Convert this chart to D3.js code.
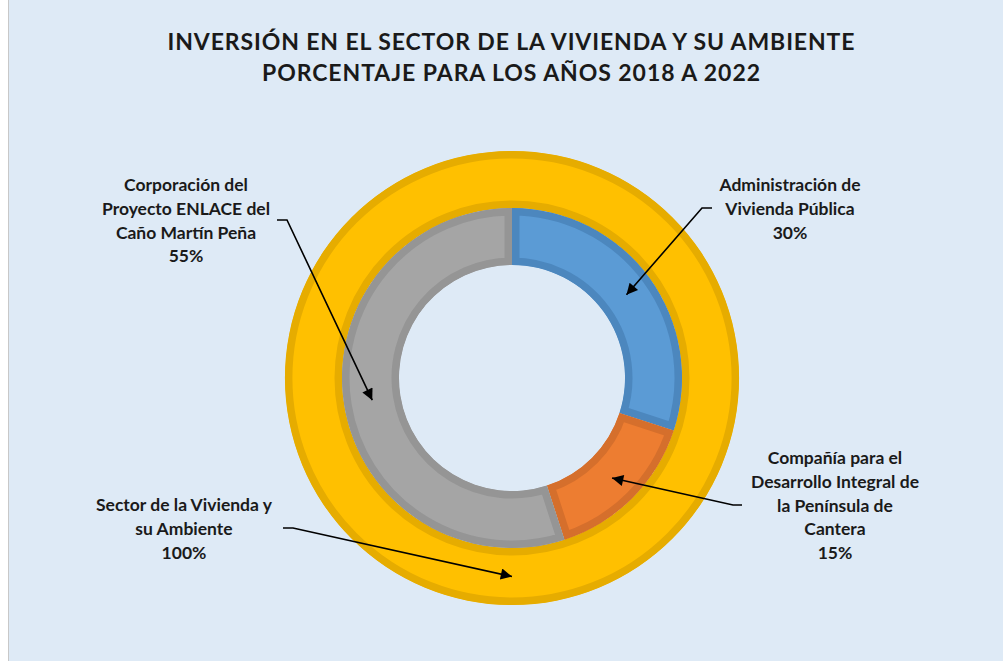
<!DOCTYPE html>
<html>
<head>
<meta charset="utf-8">
<script src="https://cdn.jsdelivr.net/npm/d3@7"></script>
<style>
  body { margin: 0; background: #fff; }
  svg { display: block; }
</style>
</head>
<body>
<div id="chart"></div>
<script>
// Data
let innerNames  = ["Administración de Vivienda Pública",
                   "Compañía para el Desarrollo Integral de la Península de Cantera",
                   "Corporación del Proyecto ENLACE del Caño Martín Peña"];
let innerValues = [30, 15, 55];
let outerNames  = ["Sector de la Vivienda y su Ambiente"];
let outerValues = [100];
let titleLines  = ["INVERSIÓN EN EL SECTOR DE LA VIVIENDA Y SU AMBIENTE",
                   "PORCENTAJE PARA LOS AÑOS 2018 A 2022"];

// Label line breaks (as in the original chart)
let innerLabelLines = [
  ["Administración de", "Vivienda Pública"],
  ["Compañía para el", "Desarrollo Integral de", "la Península de", "Cantera"],
  ["Corporación del", "Proyecto ENLACE del", "Caño Martín Peña"]
];
let outerLabelLines = [["Sector de la Vivienda y", "su Ambiente"]];

let kCanvas = { "w": 1003, "h": 661 };
let kCenter = { "x": 512, "y": 378 };
let kRadius = { "hole": 113, "mid": 170, "outer": 227 };

let kColors = {
  "bg": "#DEEAF6",
  "inner": ["#5B9BD5", "#ED7D31", "#A5A5A5"],
  "innerBorder": ["#4C87BE", "#D56F2C", "#959595"],
  "outer": "#FFC000",
  "outerBorder": "#E6AC00"
};

// label layout: center x, first line y, leader start points
let kInnerLabels = [
  { "x": 790, "y": 185, "leader": [[712, 208], [702, 208]] },
  { "x": 835, "y": 458, "leader": [[742, 505], [733, 505]] },
  { "x": 186, "y": 185, "leader": [[277, 220], [287, 220]] }
];
let kOuterLabels = [
  { "x": 184, "y": 505, "leader": [[283, 528], [293, 528]] }
];
let LINE_H = 23.7;
let FONT = "Lato, 'Open Sans', sans-serif";

let svg = d3.select("#chart").append("svg")
  .attr("width", kCanvas.w)
  .attr("height", kCanvas.h);

// chart area
svg.append("rect")
  .attr("x", 8).attr("y", 0)
  .attr("width", kCanvas.w - 8).attr("height", kCanvas.h)
  .attr("fill", kColors.bg);
svg.append("line")
  .attr("x1", 8.5).attr("y1", 0).attr("x2", 8.5).attr("y2", kCanvas.h)
  .attr("stroke", "#c8c8c8").attr("stroke-width", 1);

let defs = svg.append("defs");
defs.append("marker")
  .attr("id", "arrow")
  .attr("viewBox", "0 0 10 10")
  .attr("refX", 10).attr("refY", 5)
  .attr("markerWidth", 8).attr("markerHeight", 7)
  .attr("markerUnits", "strokeWidth")
  .attr("orient", "auto")
  .append("path")
  .attr("d", "M0,0 L10,5 L0,10 Z")
  .attr("fill", "#000");

// Title
let title = svg.append("g").attr("font-family", FONT).attr("font-weight", "bold")
  .attr("font-size", 23).attr("fill", "#1a1a1a").attr("text-anchor", "middle");
let titleWidths = [687, 498];
titleLines.forEach(function(t, i) {
  title.append("text")
    .attr("x", 511)
    .attr("y", 42 + i * 31)
    .attr("dy", "0.35em")
    .attr("textLength", titleWidths[i])
    .attr("lengthAdjust", "spacing")
    .text(t);
});

let g = svg.append("g").attr("transform", "translate(" + kCenter.x + "," + kCenter.y + ")");

let pie = d3.pie().sort(null).value(function(d) { return d; });

let innerArc = d3.arc().innerRadius(kRadius.hole).outerRadius(kRadius.mid);
let outerArc = d3.arc().innerRadius(kRadius.mid).outerRadius(kRadius.outer);

// each slice: fill + border drawn only on the inside (stroke clipped to the slice)
function drawRing(arcs, arcGen, fills, borders, prefix) {
  arcs.forEach(function(a, i) {
    let id = prefix + i;
    let d = arcGen(a);
    let wrap = g.append("g");
    wrap.append("clipPath").attr("id", id).append("path").attr("d", d);
    wrap.append("path")
      .attr("d", d)
      .attr("fill", fills[i])
      .attr("stroke", borders[i])
      .attr("stroke-width", 15)
      .attr("clip-path", "url(#" + id + ")");
  });
}

let outerPie = pie(outerValues);
let innerPie = pie(innerValues);

drawRing(outerPie, outerArc, [kColors.outer], [kColors.outerBorder], "clipOuter");
drawRing(innerPie, innerArc, kColors.inner, kColors.innerBorder, "clipInner");

// Labels + leader lines
function drawLabel(lines, value, layout, tip) {
  let tg = svg.append("text")
    .attr("font-family", FONT)
    .attr("font-weight", "bold")
    .attr("font-size", 17.5)
    .attr("fill", "#1a1a1a")
    .attr("text-anchor", "middle");
  lines.concat([value + "%"]).forEach(function(l, i) {
    tg.append("tspan")
      .attr("x", layout.x)
      .attr("y", layout.y + i * LINE_H)
      .attr("dy", "0.35em")
      .text(l);
  });

  let pts = layout.leader.concat([[tip[0] + kCenter.x, tip[1] + kCenter.y]]);
  svg.append("path")
    .attr("d", d3.line()(pts))
    .attr("fill", "none")
    .attr("stroke", "#000")
    .attr("stroke-width", 1.6)
    .attr("marker-end", "url(#arrow)");
}

innerPie.forEach(function(a, i) {
  drawLabel(innerLabelLines[i], innerValues[i], kInnerLabels[i], innerArc.centroid(a));
});
outerPie.forEach(function(a, i) {
  // centroid of a full ring is degenerate; use the bottom point of the ring
  let r = (kRadius.mid + kRadius.outer) / 2;
  drawLabel(outerLabelLines[i], outerValues[i], kOuterLabels[i], [0, r]);
});
</script>
</body>
</html>
